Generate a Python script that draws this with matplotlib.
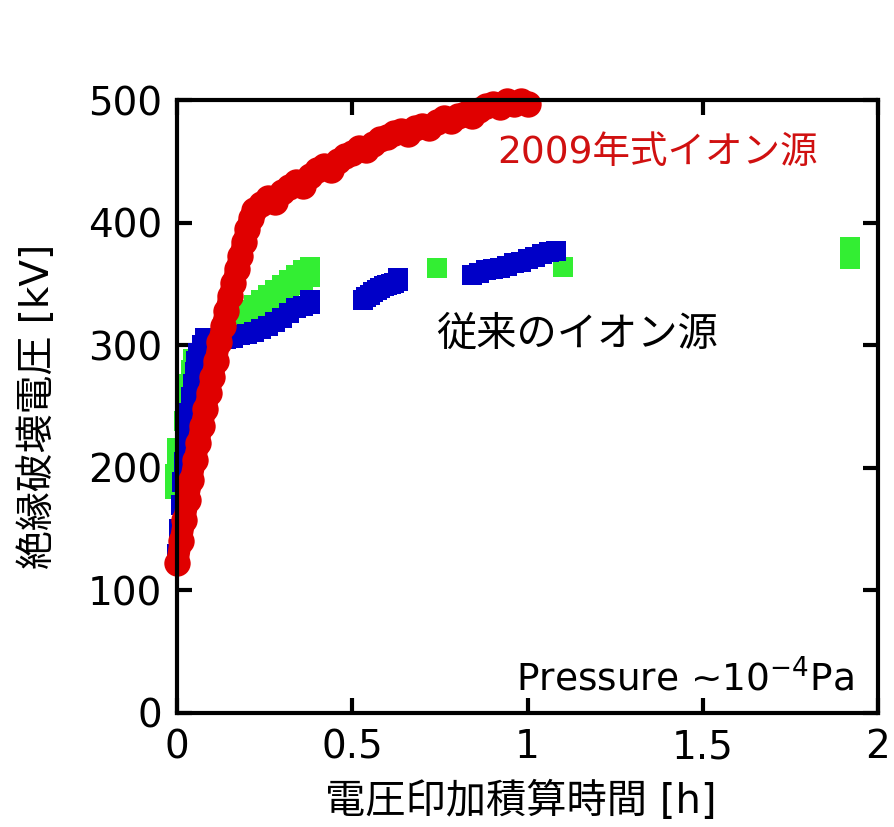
import matplotlib
matplotlib.use("Agg")
import matplotlib.pyplot as plt

# fonts: latin in DejaVu Sans, japanese falls back to Noto Sans CJK JP
plt.rcParams["font.family"] = ["DejaVu Sans", "Noto Sans CJK JP"]
plt.rcParams["mathtext.default"] = "regular"

# 2009 ion source (red circles)
red_x = [0.0, 0.01, 0.02, 0.03, 0.04, 0.05, 0.06, 0.07, 0.08, 0.09, 0.1, 0.11,
         0.12, 0.13, 0.14, 0.15, 0.16, 0.17, 0.18, 0.19, 0.2, 0.21, 0.22,
         0.24, 0.26, 0.28, 0.3, 0.32, 0.34, 0.36, 0.38, 0.4, 0.42, 0.44, 0.46,
         0.48, 0.5, 0.52, 0.54, 0.56, 0.58, 0.6, 0.62, 0.64, 0.66, 0.68, 0.7,
         0.72, 0.74, 0.76, 0.78, 0.8, 0.82, 0.84, 0.86, 0.88, 0.9, 0.92, 0.94,
         0.96, 0.98, 1.0]
red_y = [122, 140, 157, 174, 190, 206, 220, 234, 248, 261, 274, 287,
         303, 316, 328, 340, 351, 362, 373, 384, 395, 404, 410,
         415, 420, 417, 425, 429, 433, 430, 438, 443, 446, 443, 450,
         454, 457, 461, 459, 464, 468, 470, 473, 475, 472, 477, 479,
         477, 482, 485, 483, 487, 489, 487, 492, 495, 497, 494, 499,
         497, 499, 497]

# conventional ion source, run 1 (blue squares)
blue_x = [0.0, 0.005, 0.01, 0.015, 0.02, 0.025, 0.03, 0.035, 0.04, 0.045, 0.05,
          0.055, 0.06, 0.07, 0.08, 0.08, 0.1, 0.12, 0.14, 0.16, 0.18, 0.2, 0.22,
          0.24, 0.26, 0.28, 0.3, 0.32, 0.34, 0.36, 0.38, 0.38,
          0.53, 0.54, 0.55, 0.56, 0.57, 0.58, 0.59, 0.6, 0.61, 0.62, 0.63, 0.63,
          0.84, 0.86, 0.88, 0.9, 0.92, 0.94, 0.96, 0.98, 1.0, 1.02, 1.04,
          1.06, 1.08]
blue_y = [130, 150, 170, 188, 205, 220, 232, 245, 258, 268, 278,
          287, 294, 300, 302, 306, 303, 304, 305, 306, 308, 309, 311,
          313, 316, 319, 322, 326, 330, 332, 334, 337,
          337, 339, 341, 343, 345, 347, 348, 349, 350, 351, 352, 355,
          357, 359, 361, 362, 363, 365, 367, 368, 370, 372, 374,
          376, 377]

# conventional ion source, run 2 (green squares)
green_x = [-0.005, -0.005, 0.0, 0.0, 0.02, 0.03, 0.035, 0.04, 0.045,
           0.18, 0.2, 0.22, 0.24, 0.26, 0.28, 0.3, 0.32, 0.34, 0.36, 0.38,
           0.18, 0.2, 0.22, 0.24, 0.26, 0.28, 0.3, 0.32, 0.34, 0.36, 0.38,
           0.74, 1.1, 1.92, 1.92]
green_y = [183, 195, 205, 216, 238, 255, 268, 280, 289,
           318, 321, 325, 329, 333, 337, 341, 345, 349, 353, 356,
           326, 329, 333, 337, 341, 345, 349, 353, 357, 361, 364,
           363, 364, 370, 380]

x_ticks = [0, 0.5, 1, 1.5, 2]
x_ticklabels = ["0", "0.5", "1", "1.5", "2"]
y_ticks = [0, 100, 200, 300, 400, 500]

fig = plt.figure(figsize=(8.95, 8.27), dpi=100)
ax = fig.add_axes([0.198, 0.138, 0.783, 0.741])

ax.plot(green_x, green_y, "s", color="#33ee33", markersize=14, markeredgewidth=0,
        clip_on=False, zorder=2)
ax.plot(blue_x, blue_y, "s", color="#0000c8", markersize=14, markeredgewidth=0,
        clip_on=False, zorder=3)
ax.plot(red_x, red_y, "-o", color="#e00000", linewidth=16, markersize=19,
        markeredgewidth=0, solid_capstyle="round", clip_on=False, zorder=4)

ax.set_xlim(0, 2)
ax.set_ylim(0, 500)
ax.set_xticks(x_ticks)
ax.set_xticklabels(x_ticklabels)
ax.set_yticks(y_ticks)

for s in ax.spines.values():
    s.set_linewidth(3)
    s.set_zorder(5)
ax.tick_params(direction="in", length=11, width=3, top=True, right=True,
               labelsize=28, pad=11)

ax.set_xlabel("電圧印加積算時間 [h]", fontsize=29)
ax.set_ylabel("絶縁破壊電圧 [kV]", fontsize=28)
ax.xaxis.set_label_coords(0.49, -0.112)
ax.yaxis.set_label_coords(-0.172, 0.5)

ax.text(1.37, 457, "2009年式イオン源", color="#d01010", fontsize=27,
        ha="center", va="center")
ax.text(1.14, 308, "従来のイオン源", color="black", fontsize=29,
        ha="center", va="center")
ax.text(1.93, 28, "Pressure ~10$^{-4}$Pa", color="black", fontsize=27,
        ha="right", va="center")

fig.savefig("out.png", dpi=100)
